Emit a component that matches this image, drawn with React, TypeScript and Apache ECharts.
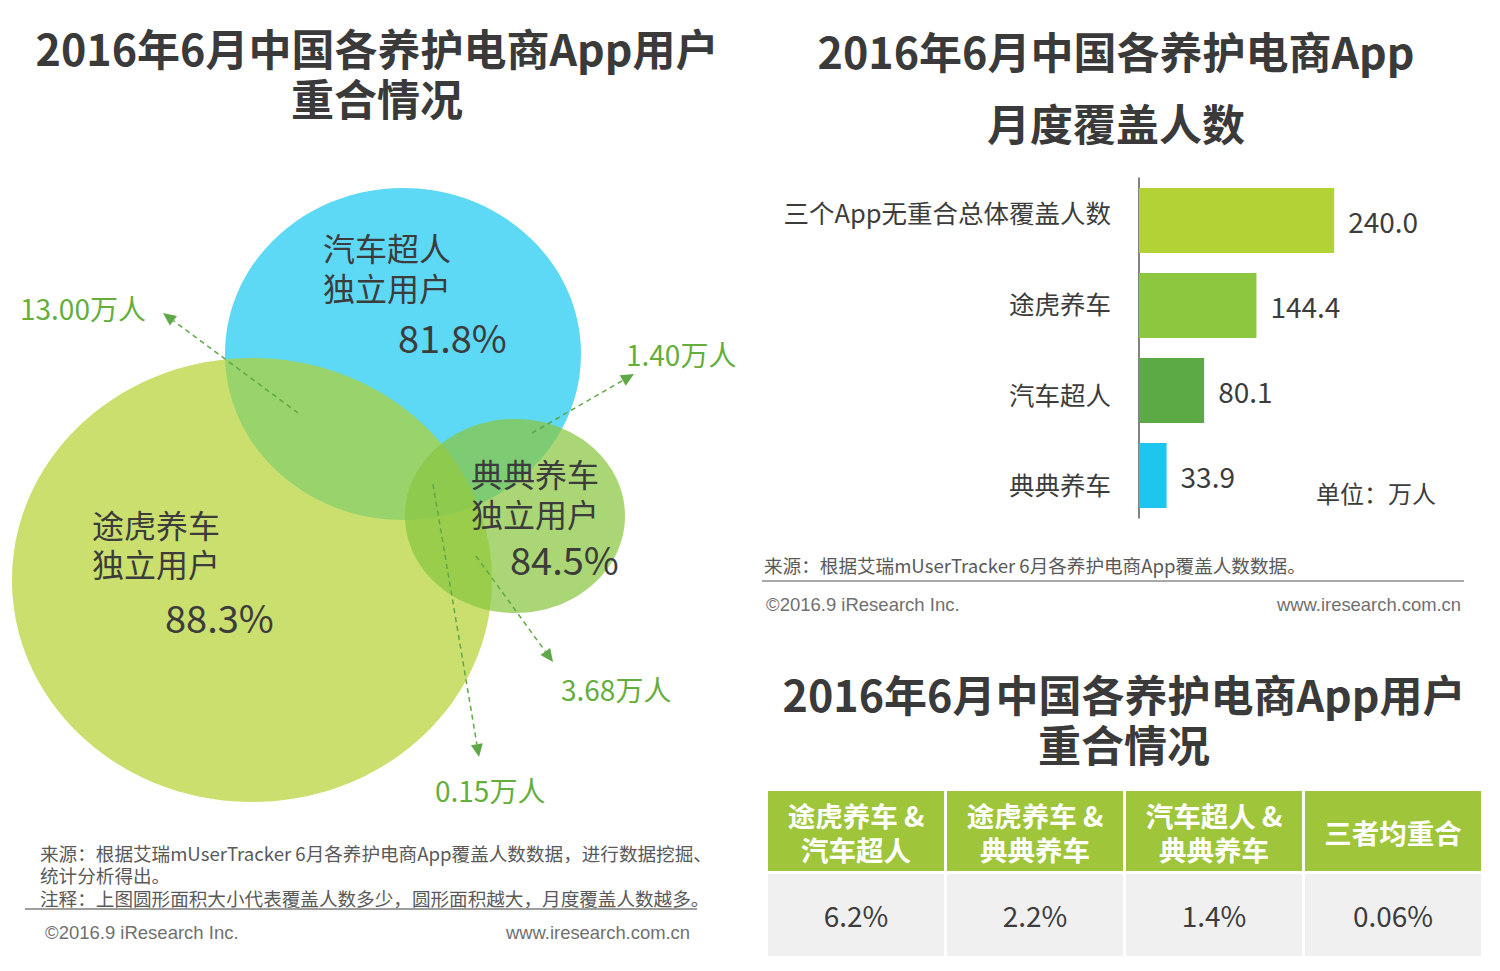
import React, { useEffect, useRef } from "react";
import * as echarts from "echarts";

// ---------- data ----------
const barCategories = ["三个App无重合总体覆盖人数", "途虎养车", "汽车超人", "典典养车"];
const barValues = [240.0, 144.4, 80.1, 33.9];
const barColors = ["#B2D235", "#8DC63F", "#5CAA46", "#1EC6EF"];

const vennNames = ["汽车超人", "途虎养车", "典典养车"];
const vennUniquePct = ["81.8%", "88.3%", "84.5%"];
const overlapLabels = ["13.00万人", "1.40万人", "3.68万人", "0.15万人"];

const tableHeaders = [["途虎养车 &", "汽车超人"], ["途虎养车 &", "典典养车"], ["汽车超人 &", "典典养车"], ["三者均重合"]];
const tableValues = ["6.2%", "2.2%", "1.4%", "0.06%"];

const titleMain = "2016年6月中国各养护电商App用户";
const titleSub = "重合情况";
const barTitle1 = "2016年6月中国各养护电商App";
const barTitle2 = "月度覆盖人数";
const unitText = "单位：万人";
const sourceBar = "来源：根据艾瑞mUserTracker 6月各养护电商App覆盖人数数据。";
const sourceLeft1 = "来源：根据艾瑞mUserTracker 6月各养护电商App覆盖人数数据，进行数据挖掘、";
const sourceLeft2 = "统计分析得出。";
const noteLeft = "注释：上图圆形面积大小代表覆盖人数多少，圆形面积越大，月度覆盖人数越多。";
const copyright = "©2016.9 iResearch Inc.";
const website = "www.iresearch.com.cn";

// ---------- layout (positions/styles) ----------
const FONT = '"Noto Sans CJK SC", "Microsoft YaHei", sans-serif';
const LATIN = '"Liberation Sans", Arial, sans-serif';
const DARK = "#3c3c3c";
const GREEN_TXT = "#64AE3C";

const vennShapes = [
  { cx: 403, cy: 354, rx: 178, ry: 166, color: "#5DD9F5", opacity: 1 },
  { cx: 252, cy: 580, rx: 240, ry: 222, color: "#B2D12D", opacity: 0.69 },
  { cx: 515, cy: 516, rx: 110, ry: 97, color: "#89C641", opacity: 0.72 },
];
const vennTextPos = [
  { x: 323, y1: 247, y2: 287, px: 398, py: 336 },
  { x: 92, y1: 524, y2: 563, px: 165, py: 616 },
  { x: 471, y1: 473, y2: 513, px: 510, py: 558 },
];
const arrowGeo = [
  { from: [298, 413], to: [163, 313], lx: 20, ly: 308 },
  { from: [532, 433], to: [634, 374], lx: 626, ly: 354 },
  { from: [476, 556], to: [553, 662], lx: 561, ly: 689 },
  { from: [433, 484], to: [479, 757], lx: 435, ly: 790 },
];
// vertical nudges of the category labels (px up/down) to match the reference
const catLabelShift = [-9, -3, 3, 8];

function txt(text: string, x: number, y: number, o: any = {}) {
  const fs = o.fontSize || 18;
  return {
    type: "text",
    x,
    y,
    silent: true,
    style: {
      text,
      fontFamily: o.fontFamily || FONT,
      fontSize: fs,
      lineHeight: o.lineHeight || fs,
      fontWeight: o.fontWeight || "normal",
      fill: o.fill || DARK,
      textAlign: o.align || "left",
      textVerticalAlign: o.valign || "middle",
    },
    z: o.z || 10,
  };
}

function arrow(from: number[], to: number[]) {
  const dx = to[0] - from[0];
  const dy = to[1] - from[1];
  const len = Math.sqrt(dx * dx + dy * dy);
  const ux = dx / len;
  const uy = dy / len;
  const hl = 13;
  const hw = 6;
  const bx = to[0] - ux * hl;
  const by = to[1] - uy * hl;
  return [
    {
      type: "line",
      silent: true,
      z: 9,
      shape: { x1: from[0], y1: from[1], x2: bx, y2: by },
      style: { stroke: "#5EA847", lineWidth: 1.5, lineDash: [5, 4] },
    },
    {
      type: "polygon",
      silent: true,
      z: 9,
      shape: {
        points: [
          [to[0], to[1]],
          [bx - uy * hw, by + ux * hw],
          [bx + uy * hw, by - ux * hw],
        ],
      },
      style: { fill: "#5EA847" },
    },
  ];
}

export default function App() {
  const ref = useRef<HTMLDivElement>(null);
  useEffect(() => {
    document.body.style.margin = "0";
    const chart = echarts.init(ref.current!, undefined, { renderer: "svg" });

    const graphics: any[] = [];
    const titleStyle = { fontSize: 43, fontWeight: "bold", align: "center", fill: "#3a3a3a" };
    // left title (two lines, 50px apart)
    graphics.push(txt(titleMain + "\n" + titleSub, 377, 72, { ...titleStyle, lineHeight: 50 }));

    // venn
    vennShapes.forEach((s, i) => {
      graphics.push({
        type: "ellipse",
        silent: true,
        z: 1 + i,
        shape: { cx: s.cx, cy: s.cy, rx: s.rx, ry: s.ry },
        style: { fill: s.color, opacity: s.opacity },
      });
    });
    vennNames.forEach((n, i) => {
      const p = vennTextPos[i];
      graphics.push(txt(n + "\n独立用户", p.x, (p.y1 + p.y2) / 2, { fontSize: 32, lineHeight: p.y2 - p.y1 }));
      graphics.push(txt(vennUniquePct[i], p.px, p.py, { fontSize: 38 }));
    });
    arrowGeo.forEach((a, i) => {
      graphics.push(...arrow(a.from, a.to));
      graphics.push(txt(overlapLabels[i], a.lx, a.ly, { fontSize: 28, fill: GREEN_TXT }));
    });

    // left footer
    graphics.push(
      txt(sourceLeft1 + "\n" + sourceLeft2 + "\n" + noteLeft, 40, 874.5, { fontSize: 18.6, lineHeight: 22.5, fill: "#595959" })
    );
    graphics.push({ type: "line", silent: true, shape: { x1: 25, y1: 909, x2: 697, y2: 909 }, style: { stroke: "#7f7f7f", lineWidth: 1.5 } });
    graphics.push(txt(copyright, 45, 932, { fontSize: 18.5, fill: "#707070", fontFamily: LATIN }));
    graphics.push(txt(website, 690, 932, { fontSize: 18.4, fill: "#707070", align: "right", fontFamily: LATIN }));

    // right top title
    graphics.push(txt(barTitle1 + "\n" + barTitle2, 1116, 86, { ...titleStyle, lineHeight: 72 }));
    graphics.push(txt(unitText, 1316, 492, { fontSize: 24 }));
    graphics.push(txt(sourceBar, 764, 564, { fontSize: 18.6, fill: "#595959" }));
    graphics.push({ type: "line", silent: true, shape: { x1: 762, y1: 581, x2: 1464, y2: 581 }, style: { stroke: "#8c8c8c", lineWidth: 1.5 } });
    graphics.push(txt(copyright, 766, 604, { fontSize: 18.5, fill: "#707070", fontFamily: LATIN }));
    graphics.push(txt(website, 1461, 604, { fontSize: 18.4, fill: "#707070", align: "right", fontFamily: LATIN }));

    // right bottom title
    graphics.push(txt(titleMain + "\n" + titleSub, 1124, 718, { ...titleStyle, lineHeight: 50 }));

    // table
    const colX0 = 768;
    const colW = 176;
    const gap = 3;
    tableHeaders.forEach((h, i) => {
      const x = colX0 + i * (colW + gap);
      graphics.push({ type: "rect", silent: true, shape: { x, y: 791, width: colW, height: 80 }, style: { fill: "#9FC63B" } });
      graphics.push({ type: "rect", silent: true, shape: { x, y: 874, width: colW, height: 82 }, style: { fill: "#F0F0F0" } });
      const hs = { fontSize: 27.5, fontWeight: "bold", fill: "#ffffff", align: "center", lineHeight: 34 };
      graphics.push(txt(h.join("\n"), x + colW / 2, 832, hs));
      graphics.push(txt(tableValues[i], x + colW / 2, 915, { fontSize: 28, fill: DARK, align: "center" }));
    });

    const rich: any = {};
    catLabelShift.forEach((s, i) => {
      rich["c" + i] = {
        fontSize: 25.5,
        color: DARK,
        fontFamily: FONT,
        padding: s < 0 ? [0, 0, -2 * s, 0] : [2 * s, 0, 0, 0],
      };
    });

    chart.setOption({
      animation: false,
      backgroundColor: "#ffffff",
      grid: { left: 1139, top: 178, width: 244, height: 340 },
      xAxis: { type: "value", min: 0, max: 300, show: false },
      yAxis: {
        type: "category",
        inverse: true,
        data: barCategories,
        axisLine: { lineStyle: { color: "#595959", width: 1.5 } },
        axisTick: { show: false },
        axisLabel: {
          margin: 28,
          formatter: (v: string, idx: number) => `{c${idx}|${v}}`,
          rich,
        },
      },
      series: [
        {
          type: "bar",
          barWidth: 65,
          data: barValues.map((v, i) => ({ value: v, itemStyle: { color: barColors[i] } })),
          label: {
            show: true,
            position: "right",
            distance: 14,
            fontSize: 28,
            color: DARK,
            fontFamily: FONT,
            formatter: (p: any) => Number(p.value).toFixed(1),
          },
        },
      ],
      graphic: graphics,
    });
    return () => chart.dispose();
  }, []);
  return <div ref={ref} style={{ width: 1500, height: 971, position: "absolute", left: 0, top: 0 }} />;
}
